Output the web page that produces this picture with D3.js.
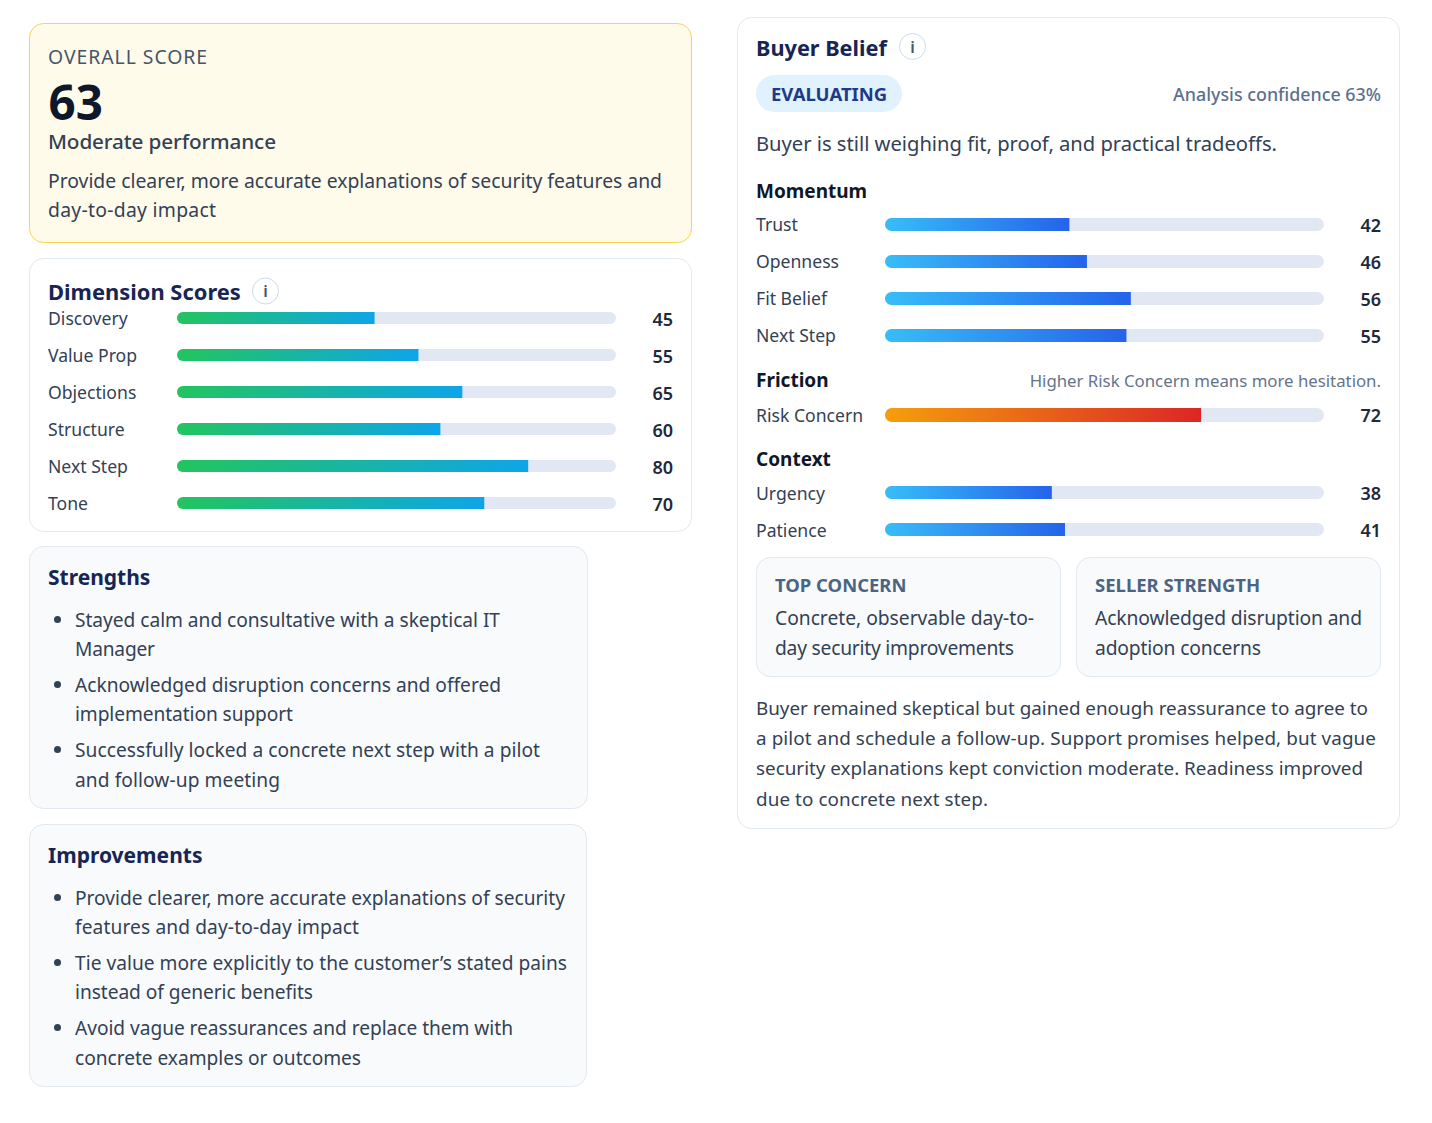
<!DOCTYPE html>
<html><head><meta charset="utf-8">
<script src="https://cdn.jsdelivr.net/npm/d3@7/dist/d3.min.js"></script>
<style>html,body{margin:0;padding:0;background:#fff}svg{display:block}text{font-family:"Noto Sans",sans-serif;white-space:pre}</style>
</head><body><svg id="c" width="1432" height="1123"></svg>
<script>
const dimLabels=["Discovery","Value Prop","Objections","Structure","Next Step","Tone"];
const dimValues=[45,55,65,60,80,70];
const momentumLabels=["Trust","Openness","Fit Belief","Next Step"];
const momentumValues=[42,46,56,55];
const frictionLabels=["Risk Concern"];
const frictionValues=[72];
const contextLabels=["Urgency","Patience"];
const contextValues=[38,41];
const strengths=[["Stayed calm and consultative with a skeptical IT","Manager"],["Acknowledged disruption concerns and offered","implementation support"],["Successfully locked a concrete next step with a pilot","and follow-up meeting"]];
const improvements=[["Provide clearer, more accurate explanations of security","features and day-to-day impact"],["Tie value more explicitly to the customer’s stated pains","instead of generic benefits"],["Avoid vague reassurances and replace them with","concrete examples or outcomes"]];
const summary=["Buyer remained skeptical but gained enough reassurance to agree to","a pilot and schedule a follow-up. Support promises helped, but vague","security explanations kept conviction moderate. Readiness improved","due to concrete next step."];
// layout only: right edge of each wrapped line
const strengthEnds=[[500,155],[501,293],[540,280]];
const improvementEnds=[[565,359],[567,313],[513,361]];
const summaryEnds=[1368,1376,1363,988];

const svg=d3.select("#c");
const defs=svg.append("defs");
function grad(id,a,b){const g=defs.append("linearGradient").attr("id",id);g.append("stop").attr("offset",0).attr("stop-color",a);g.append("stop").attr("offset",1).attr("stop-color",b);}
grad("gDim","#22c55e","#0ea5e9");grad("gBuy","#38bdf8","#2563eb");grad("gRisk","#f59e0b","#dc2626");
function card(x0,y0,x1,y1,fill,stroke,r){svg.append("rect").attr("x",x0).attr("y",y0).attr("width",x1-x0).attr("height",y1-y0).attr("rx",r).attr("fill",fill).attr("stroke",stroke);}
function text(x,y,s,size,weight,fill,o={}){const t=svg.append("text").attr("x",x).attr("y",y).attr("font-size",size).attr("font-weight",weight).attr("fill",fill).text(s);if(o.anchor)t.attr("text-anchor",o.anchor);if(o.ls)t.attr("letter-spacing",o.ls);if(o.end)t.attr("textLength",o.end-x).attr("lengthAdjust","spacing");return t;}
function info(cx,cy){svg.append("circle").attr("cx",cx).attr("cy",cy).attr("r",13).attr("fill","#fff").attr("stroke","#cbdcf0");text(cx,cy+6,"i",16,600,"#475569",{anchor:"middle"});}
const body="#334155",navy="#172554",dark="#0f172a",track="#e2e8f3",muted="#4b6484";
function bars(labels,values,y0,step,x0,x1,gid,h,valX,lx,ly,vy){
  const x=d3.scaleLinear().domain([0,100]).range([x0,x1]);
  const y=d3.scalePoint().domain(labels).range([y0,y0+step*(labels.length-1)]);
  const g=svg.append("g");
  labels.forEach((l,i)=>{
    const yy=y(l);
    g.append("rect").attr("x",x(0)).attr("y",yy-h/2).attr("width",x(100)-x(0)).attr("height",h).attr("rx",h/2).attr("fill",track);
    const v=values[i],top=yy-h/2,r=h/2;
    g.append("path").attr("d",`M${x(0)+r},${top}H${x(v)}V${top+h}H${x(0)+r}A${r},${r} 0 0 1 ${x(0)+r},${top}Z`).attr("fill",`url(#${gid})`);
    text(lx,yy+ly,l,17.6,400,body);
    text(valX,yy+vy,String(v),18,600,"#1e293b",{anchor:"end"});
  });
}
// Overall
card(29.5,23.5,691.5,242.5,"#fffbeb","#fcd34d",14);
text(48,64,"OVERALL SCORE",19.4,400,"#475569",{ls:.95});
text(48.5,119.5,"63",47.5,700,dark);
text(48,148.5,"Moderate performance",20.7,500,body,{end:276});
text(48,188,"Provide clearer, more accurate explanations of security features and",19.35,400,body,{end:662});
text(48,217,"day-to-day impact",19.35,400,body,{end:216});
// Dimensions
card(29.5,258.5,691.5,531.5,"#fff","#e2e8f0",14);
text(48,299.5,"Dimension Scores",21.9,700,navy);
info(265.5,291);
bars(dimLabels,dimValues,318,37,177,616,"gDim",12,673,48,7,8);
// Lists
function list(x0,y0,x1,y1,title,items,ends){
  card(x0,y0,x1,y1,"#f8fafc","#e2e8f0",14);
  text(48,y0+38.5,title,21,700,navy);
  const ys=[[80,109],[145,174],[210,240]];
  items.forEach((it,i)=>{
    svg.append("circle").attr("cx",57.5).attr("cy",y0+ys[i][0]-7).attr("r",3.5).attr("fill","#334155");
    it.forEach((s,j)=>text(75,y0+ys[i][j],s,19.15,400,body,{end:ends[i][j]}));
  });
}
list(29.5,546.5,587.5,808.5,"Strengths",strengths,strengthEnds);
list(29.5,824.5,586.5,1086.5,"Improvements",improvements,improvementEnds);
// Buyer
card(737.5,17.5,1399.5,828.5,"#fff","#e2e8f0",14);
text(756,55.5,"Buyer Belief",21.7,700,navy);
info(912.5,46.5);
svg.append("rect").attr("x",756).attr("y",75).attr("width",146).attr("height",37).attr("rx",18.5).attr("fill","#e0f2fe");
text(771,101,"EVALUATING",18.5,700,"#1e3a8a");
text(1381,101,"Analysis confidence 63%",17.85,500,"#5b708c",{anchor:"end"});
text(756,151,"Buyer is still weighing fit, proof, and practical tradeoffs.",20.2,400,body,{end:1277});
text(756,198,"Momentum",19,700,dark);
bars(momentumLabels,momentumValues,224.5,37,885,1324,"gBuy",13,1381,756,6.5,7);
text(756,387,"Friction",19,700,dark);
text(1381,387,"Higher Risk Concern means more hesitation.",16.8,400,"#64748b",{anchor:"end"});
bars(frictionLabels,frictionValues,415,37,885,1324,"gRisk",14,1381,756,7,7);
text(756,466,"Context",19,700,dark);
bars(contextLabels,contextValues,492.5,37,885,1324,"gBuy",13,1381,756,7.5,7);
card(756.5,557.5,1060.5,676.5,"#f8fafc","#e2e8f0",14);
card(1076.5,557.5,1380.5,676.5,"#f8fafc","#e2e8f0",14);
text(775,592,"TOP CONCERN",18.45,700,muted);
text(1095,592,"SELLER STRENGTH",18.5,700,muted);
text(775,625,"Concrete, observable day-to-",19.25,400,body,{end:1034});
text(775,655,"day security improvements",19.25,400,body,{end:1014});
text(1095,625,"Acknowledged disruption and",19.25,400,body,{end:1362});
text(1095,655,"adoption concerns",19.25,400,body,{end:1261});
summary.forEach((s,i)=>text(756,[715,745,775,806][i],s,18.85,400,body,{end:summaryEnds[i]}));
</script></body></html>
